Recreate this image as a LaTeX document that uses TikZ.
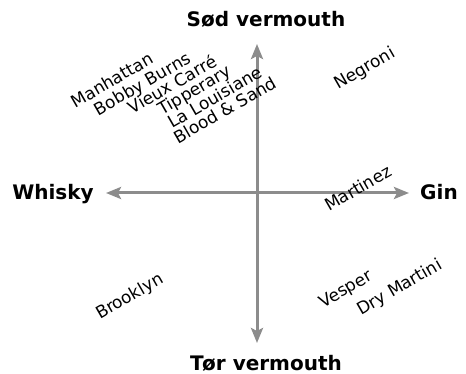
\documentclass[tikz,border=0pt]{standalone}
\usepackage{fontspec}
\setmainfont{DejaVu Sans}
\usetikzlibrary{arrows.meta}
\definecolor{caxis}{HTML}{8c8c8c}

\begin{document}
\begin{tikzpicture}[
  x=1pt, y=-1pt,
  font=\fontsize{17}{20}\selectfont,
  axislabel/.style={font=\fontsize{20}{24}\selectfont\bfseries, inner sep=0pt, anchor=base},
  drink/.style={rotate=30, inner sep=0pt},
  axis/.style={<->, >={Stealth[length=15pt, width=12pt, inset=3pt]},
               line width=3pt, draw=caxis},
  ]
\useasboundingbox (0,0) rectangle (466,374);
% ---- axis ends
\node[axislabel] (sweet)  at (266,26.5) {Sød vermouth};
\node[axislabel] (dry)    at (266,370)  {Tør vermouth};
\node[axislabel] (whisky) at (53,199.5) {Whisky};
\node[axislabel] (gin)    at (439,200)  {Gin};
\coordinate (left)   at (106,193);
\coordinate (right)  at (409,193);
\coordinate (top)    at (257,44);
\coordinate (bottom) at (257,343);
% ---- axes
\draw[axis] (left) -- (right);
\draw[axis] (top) -- (bottom);
% ---- whisky + sweet
\node[drink] (manhattan) at (112,80)  {Manhattan};
\node[drink] (bobby)     at (143,85)  {Bobby Burns};
\node[drink] (vieux)     at (172,84)  {Vieux Carré};
\node[drink] (tipp)      at (195,91)  {Tipperary};
\node[drink] (louisiane) at (215,97)  {La Louisiane};
\node[drink] (blood)     at (225,110) {Blood \& Sand};
% ---- gin + sweet
\node[drink] (negroni)   at (365,69)  {Negroni};
\node[drink] (martinez)  at (358,188) {Martinez};
% ---- dry side
\node[drink] (brooklyn)  at (130,297) {Brooklyn};
\node[drink] (vesper)    at (346,290) {Vesper};
\node[drink] (drymart)   at (400,288) {Dry Martini};
\end{tikzpicture}
\end{document}
